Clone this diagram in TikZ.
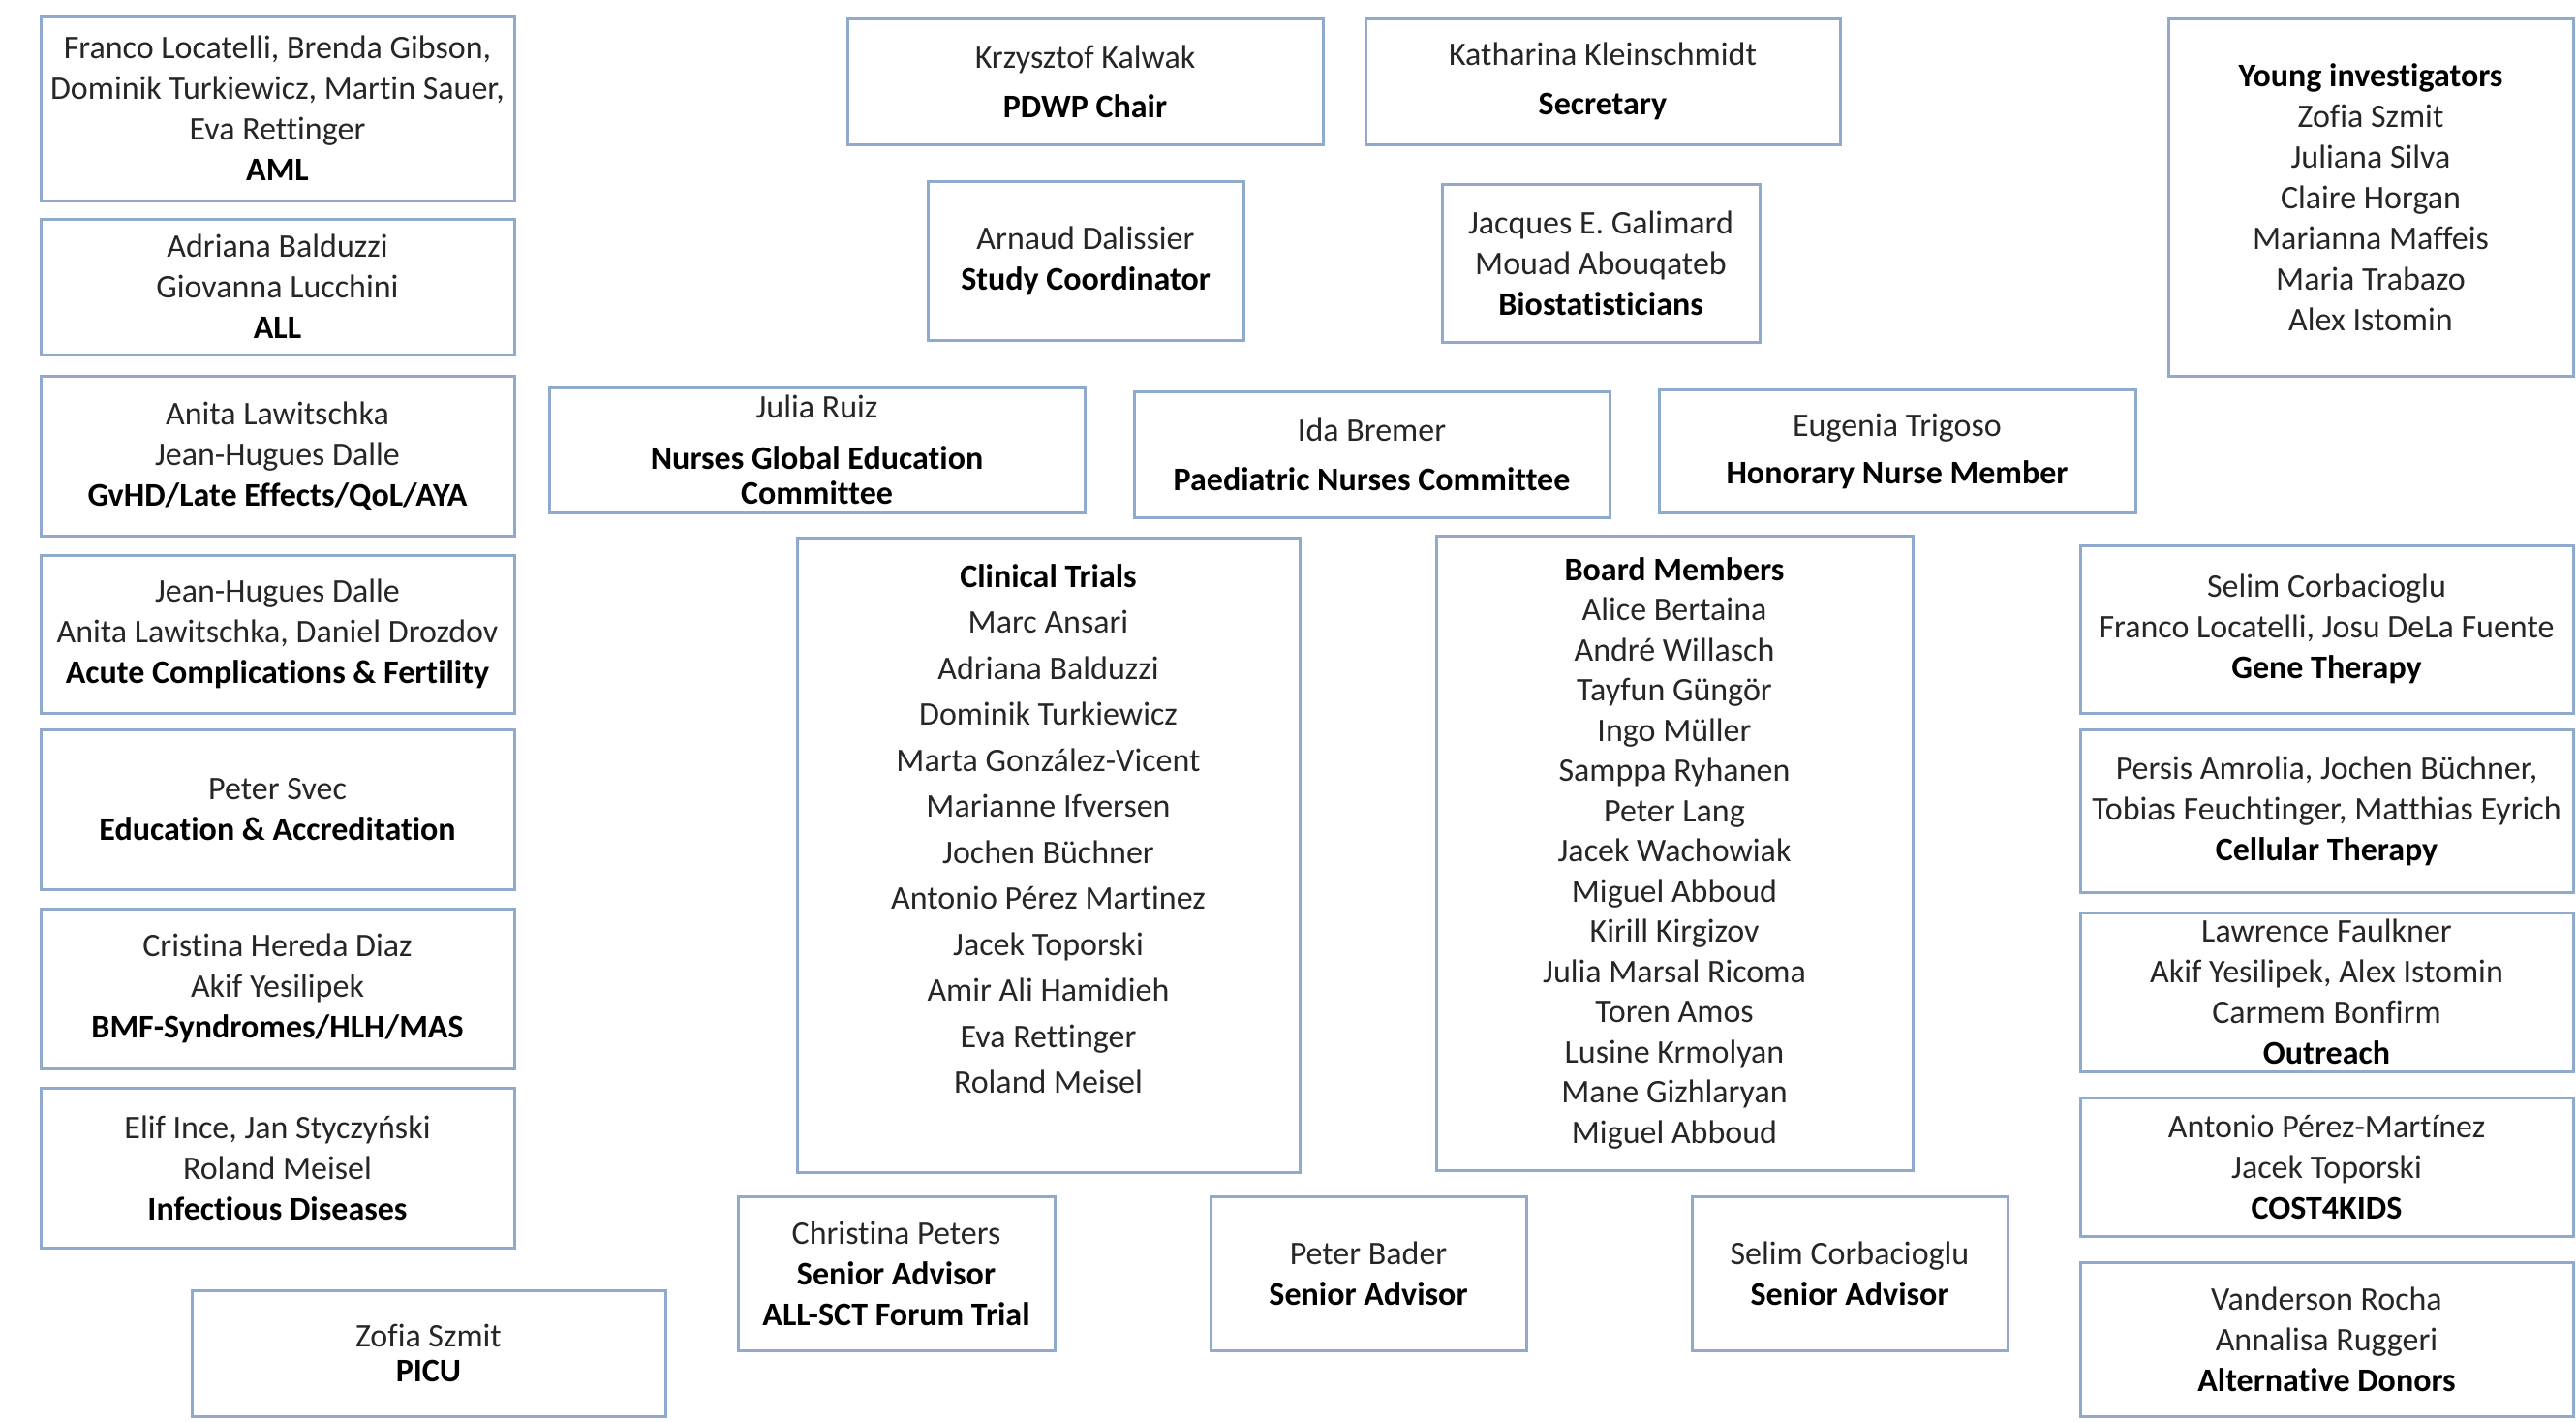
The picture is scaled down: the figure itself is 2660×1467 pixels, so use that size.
\documentclass[tikz,border=0pt]{standalone}
\usepackage{fontspec}
\setmainfont{Carlito}[Ligatures=NoCommon]
\definecolor{boxblue}{RGB}{143,170,204}
\definecolor{txtgray}{RGB}{38,38,38}
\tikzset{
  box/.style={draw=boxblue, line width=3pt, fill=white, inner sep=0pt, align=center,
    font=\fontsize{34}{42}\selectfont, text=txtgray},
  boxtext/.style={inner sep=0pt, align=center, font=\fontsize{34}{47.5}\selectfont, text=txtgray}
}
\newcommand{\hb}[1]{\textbf{\color{black}#1}}
\begin{document}
\begin{tikzpicture}[x=1pt,y=-1pt]
\useasboundingbox[fill=white] (0,0) rectangle (2660,1467);
% left column
\node[box, minimum width=489, minimum height=190] (aml) at (286.5,112) {Franco Locatelli, Brenda Gibson,\\Dominik Turkiewicz, Martin Sauer,\\Eva Rettinger\\\hb{AML}};
\node[box, minimum width=489, minimum height=140] (all) at (286.5,296) {Adriana Balduzzi\\Giovanna Lucchini\\\hb{ALL}};
\node[box, minimum width=489, minimum height=165] (gvhd) at (286.5,470.5) {Anita Lawitschka\\Jean-Hugues Dalle\\\hb{GvHD/Late Effects/QoL/AYA}};
\node[box, minimum width=489, minimum height=163] (acute) at (286.5,654.5) {Jean-Hugues Dalle\\Anita Lawitschka, Daniel Drozdov\\\hb{Acute Complications \& Fertility}};
\node[box, minimum width=489, minimum height=165] (edu) at (286.5,835.5) {Peter Svec\\\hb{Education \& Accreditation}};
\node[box, minimum width=489, minimum height=165] (bmf) at (286.5,1020.5) {Cristina Hereda Diaz\\Akif Yesilipek\\\hb{BMF-Syndromes/HLH/MAS}};
\node[box, minimum width=489, minimum height=165] (inf) at (286.5,1205.5) {Elif Ince, Jan Styczyński\\Roland Meisel\\\hb{Infectious Diseases}};
\node[box, minimum width=489, minimum height=130] (picu) at (442.5,1397) {Zofia Szmit\\[-6pt]\hb{PICU}};
% top middle
\node[box, minimum width=491, minimum height=130] (chair) at (1120.5,84) {Krzysztof Kalwak\\[9pt]\hb{PDWP Chair}};
\node[box, minimum width=490, minimum height=130] (secr) at (1655,84) {Katharina Kleinschmidt\\[9pt]\hb{Secretary}};
\node[box, minimum width=326, minimum height=164] (study) at (1121,269) {Arnaud Dalissier\\\hb{Study Coordinator}};
\node[box, minimum width=328, minimum height=163] (bio) at (1653,271.5) {Jacques E. Galimard\\Mouad Abouqateb\\\hb{Biostatisticians}};
\node[box, minimum width=418, minimum height=369] (young) at (2448,203.5) {\hb{Young investigators}\\Zofia Szmit\\Juliana Silva\\Claire Horgan\\Marianna Maffeis\\Maria Trabazo\\Alex Istomin};
% nurses row
\node[box, minimum width=553, minimum height=129] (ngec) at (843.5,464.5) {Julia Ruiz\\[11pt]\hb{Nurses Global Education}\\[-6pt]\hb{Committee}};
\node[box, minimum width=491, minimum height=130] (pnc) at (1416.5,469) {Ida Bremer\\[9pt]\hb{Paediatric Nurses Committee}};
\node[box, minimum width=492, minimum height=127] (hnm) at (1959,465.5) {Eugenia Trigoso\\[7pt]\hb{Honorary Nurse Member}};
% clinical trials and board
\node[box, minimum width=519, minimum height=655] (ct) at (1082.5,882.5) {};
\node[boxtext] (ctt) at ([yshift=27pt]ct.center) {\hb{Clinical Trials}\\Marc Ansari\\Adriana Balduzzi\\Dominik Turkiewicz\\Marta González-Vicent\\Marianne Ifversen\\Jochen Büchner\\Antonio Pérez Martinez\\Jacek Toporski\\Amir Ali Hamidieh\\Eva Rettinger\\Roland Meisel};
\node[box, minimum width=492, minimum height=655] (board) at (1729,880.5) {\hb{Board Members}\\[-0.5pt]Alice Bertaina\\[-0.5pt]André Willasch\\[-0.5pt]Tayfun Güngör\\[-0.5pt]Ingo Müller\\[-0.5pt]Samppa Ryhanen\\[-0.5pt]Peter Lang\\[-0.5pt]Jacek Wachowiak\\[-0.5pt]Miguel Abboud\\[-0.5pt]Kirill Kirgizov\\[-0.5pt]Julia Marsal Ricoma\\[-0.5pt]Toren Amos\\[-0.5pt]Lusine Krmolyan\\[-0.5pt]Mane Gizhlaryan\\[-0.5pt]Miguel Abboud};
% right column
\node[box, minimum width=509, minimum height=173] (gene) at (2402.5,649.5) {Selim Corbacioglu\\Franco Locatelli, Josu DeLa Fuente\\\hb{Gene Therapy}};
\node[box, minimum width=509, minimum height=168] (cell) at (2402.5,837) {Persis Amrolia, Jochen Büchner,\\Tobias Feuchtinger, Matthias Eyrich\\\hb{Cellular Therapy}};
\node[box, minimum width=509, minimum height=164] (outr) at (2402.5,1024) {Lawrence Faulkner\\Akif Yesilipek, Alex Istomin\\Carmem Bonfirm\\\hb{Outreach}};
\node[box, minimum width=509, minimum height=143] (cost) at (2402.5,1204.5) {Antonio Pérez-Martínez\\Jacek Toporski\\\hb{COST4KIDS}};
\node[box, minimum width=509, minimum height=159] (alt) at (2402.5,1382.5) {Vanderson Rocha\\Annalisa Ruggeri\\\hb{Alternative Donors}};
% bottom advisors
\node[box, minimum width=327, minimum height=159] (peters) at (925.5,1314.5) {Christina Peters\\\hb{Senior Advisor}\\\hb{ALL-SCT Forum Trial}};
\node[box, minimum width=326, minimum height=159] (bader) at (1413,1314.5) {Peter Bader\\\hb{Senior Advisor}};
\node[box, minimum width=326, minimum height=159] (selim) at (1910,1314.5) {Selim Corbacioglu\\\hb{Senior Advisor}};
\end{tikzpicture}
\end{document}
